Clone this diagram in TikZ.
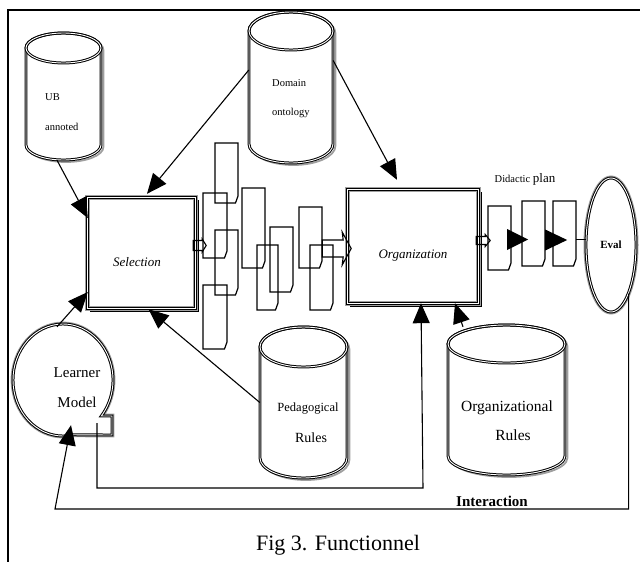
\documentclass[tikz,border=0pt]{standalone}
\usepackage{fontspec}
\setmainfont{Liberation Serif}
\usetikzlibrary{arrows.meta,shapes.geometric,calc}

\tikzset{
  frameline/.style={line width=1.3pt},
  conn/.style={line width=1.1pt},
  arr/.style={conn, -{Triangle[length=20pt,width=17pt]}},
  docline/.style={line width=1.2pt},
  tripst/.style={draw=black, line width=1pt, double=white, double distance=0.9pt},
  cylshadow/.style={draw=gray!75, line width=1.8pt, fill=white},
  cylmain/.style={tripst, fill=white},
  hollow/.style={line width=1.1pt, line join=miter},
  txt/.style={inner sep=0pt},
}

% #1 name, #2 cx, #3 top, #4 halfwidth, #5 bottom, #6 ry
\newcommand\mycyl[6]{%
  \node[inner sep=0pt, minimum width={2*#4}, minimum height={#5-#3}] (#1) at (#2,{(#3+#5)/2}) {};
  \begin{scope}[shift={(2.4,2)}]
    \filldraw[cylshadow] (#2-#4,#3+#6) -- (#2-#4,#5-#6) arc[start angle=180, end angle=0, x radius=#4, y radius=#6]
      -- (#2+#4,#3+#6) arc[start angle=0, end angle=-180, x radius=#4, y radius=#6] -- cycle;
  \end{scope}
  \filldraw[cylmain] (#2-#4,#3+#6) -- (#2-#4,#5-#6) arc[start angle=180, end angle=0, x radius=#4, y radius=#6]
      -- (#2+#4,#3+#6) arc[start angle=0, end angle=-180, x radius=#4, y radius=#6] -- cycle;
  \draw[tripst] (#2,#3+#6) ellipse[x radius=#4, y radius=#6];
}
% #1 name, #2 cx, #3 cy, #4 width, #5 height
\newcommand\mybox[5]{%
  \node[inner sep=0pt, minimum width=#4, minimum height=#5] (#1) at (#2,#3) {};
  \draw[line width=1.2pt] ([shift={(3pt,-3pt)}]#1.south west) rectangle ([shift={(3pt,-3pt)}]#1.north east);
  \filldraw[fill=white, draw=gray!75, line width=5pt] (#1.south west) rectangle (#1.north east);
  \draw[black, line width=3pt] (#1.south west) rectangle (#1.north east);
  \draw[white, line width=1pt] (#1.south west) rectangle (#1.north east);
}
% #1 name, #2 x0, #3 y0, #4 x1, #5 y1
\newcommand\mydoc[5]{%
  \node[inner sep=0pt, minimum width={#4-#2}, minimum height={#5-#3}] (#1) at ({(#2+#4)/2},{(#3+#5)/2}) {};
  \draw[docline] (#2,#3) -- (#4,#3) -- (#4,#5-7) -- (#4-2.5,#5) -- (#2,#5) -- cycle;
}

\begin{document}
\begin{tikzpicture}[x=1pt,y=-1pt]
\useasboundingbox (0,0) rectangle (640,562);

% frame
\draw[frameline] (8,562) -- (8,10) -- (640,10);

% cylinders
\mycyl{ub}{63.5}{33}{37.5}{160}{15}
\mycyl{dom}{291}{12}{42}{163}{19}
\mycyl{ped}{303.5}{327}{43.5}{478}{20}
\mycyl{orgr}{506.5}{325}{58.5}{475}{19}

% boxes
\mybox{sel}{141.5}{253}{107}{110}
\mybox{org}{413}{246.5}{130}{113}
\node[ellipse, minimum width=50, minimum height=134, inner sep=0pt,
      draw=black, line width=1pt, double=white, double distance=0.9pt,
      preaction={draw=gray!75, line width=5pt}, fill=white,
      font=\fontsize{11}{13}\selectfont\bfseries] (ev) at (611,245) {Eval};

% learner model
\node[ellipse, inner sep=0pt, minimum width=100, minimum height=112] (lm) at (63,380) {};
\draw[tripst, fill=white, preaction={draw=gray!75, line width=4.8pt}]
  ($(lm.center)+(78:50 and 56)$) arc[start angle=78, end angle=400, x radius=50, y radius=56]
  -- ($(lm.center)+(49,36)$) -- ($(lm.center)+(49,55)$) -- cycle;

% documents
\mydoc{a1}{203}{193}{227}{258}
\mydoc{a2}{203}{285}{227}{349}
\mydoc{b1}{215}{143}{238}{203}
\mydoc{b2}{215}{230}{238}{295}
\mydoc{c1}{242}{188}{265}{268}
\mydoc{dd}{257}{245}{278}{310}
\mydoc{e1}{270}{227}{293}{292}
\mydoc{f1}{299}{207}{322}{268}
\mydoc{g1}{310}{245}{333}{310}
\mydoc{p1}{488}{206}{511}{270}
\mydoc{p2}{522}{201}{545}{266}
\mydoc{p3}{553}{201}{576}{266}

% hollow arrows
\draw[hollow] ([xshift=-2pt,yshift=7.5pt]sel.east) ++(0,-5) -- ++(9,0) -- ++(0,-1.5) -- ++(4,6.5)
  -- ++(-4,6.5) -- ++(0,-1.5) -- ++(-9,0) -- cycle;
\draw[hollow] ([xshift=-2pt,yshift=6pt]org.east) ++(0,-4) -- ++(9,0) -- ++(0,-2) -- ++(5,6)
  -- ++(-5,6) -- ++(0,-2) -- ++(-9,0) -- cycle;
\draw[hollow] ([yshift=-11pt]f1.east) ++(0,-8.5) -- ++(21,0) -- ++(-1,-8) -- ++(9,16.5)
  -- ++(-9,16.5) -- ++(1,-8) -- ++(-21,0) -- cycle;

% didactic plan arrows
\fill ([xshift=-4pt,yshift=-1.5pt]p1.east) ++(0,-10.5) -- ++(21,10.5) -- ++(-21,10.5) -- cycle;
\fill ([yshift=-6.5pt]p2.east) ++(0,-10.5) -- ++(22,10.5) -- ++(-22,10.5) -- cycle;
\draw[conn] ([yshift=-6pt]p3.east) -- ([yshift=-6pt]p3.east -| ev.west);

% connectors
\draw[arr] ([xshift=-6.5pt]ub.south) -- ([yshift=35pt]sel.west);
\draw[arr] ([yshift=17.5pt]dom.west) -- ([xshift=5.5pt,yshift=4pt]sel.north);
\draw[arr] ([yshift=27pt]dom.east) -- ([xshift=-16pt,yshift=10pt]org.north);
\draw[arr] (ped.west) -- ([xshift=7pt,yshift=-1pt]sel.south);
\draw[arr] ([xshift=-6pt,yshift=-3pt]lm.north) -- ([yshift=-39pt]sel.west);
\draw[arr] ([xshift=-43.5pt,yshift=-2pt]orgr.north) -- ([xshift=42pt]org.south);
\coordinate (lmn) at ($(lm.center)+(34,43)$);
\coordinate (c1) at (423,488);
\draw[arr] (lmn) |- (c1) -- ([xshift=8pt]org.south);
\coordinate (c3) at (55,509);
\draw[arr] (ev.-70) |- (c3) -- ([xshift=8pt,yshift=11pt]lm.south);

% texts
\node[txt, anchor=west, font=\fontsize{10.5}{12}\selectfont] (tub1) at (45,97) {UB};
\node[txt, anchor=west, font=\fontsize{10.5}{12}\selectfont] (tub2) at (45,127) {annoted};
\node[txt, anchor=west, font=\fontsize{10.5}{12}\selectfont] (tdom1) at (272,83) {Domain};
\node[txt, anchor=west, font=\fontsize{10.5}{12}\selectfont] (tdom2) at (272,113) {ontology};
\node[txt, font=\fontsize{13}{15}\selectfont\itshape] (tsel) at (137,262) {Selection};
\node[txt, font=\fontsize{13}{15}\selectfont\itshape] (torg) at (413,256) {Organization};
\node[txt, font=\fontsize{12.5}{14}\selectfont] (tped1) at (308,409) {Pedagogical};
\node[txt, font=\fontsize{14}{16}\selectfont] (tped2) at (311,438) {Rules};
\node[txt, font=\fontsize{15.5}{17}\selectfont] (torgr1) at (507,408) {Organizational};
\node[txt, font=\fontsize{15.5}{17}\selectfont] (torgr2) at (513,435) {Rules};
\node[txt, font=\fontsize{15}{17}\selectfont] (tlm1) at (77,373) {Learner};
\node[txt, font=\fontsize{15}{17}\selectfont] (tlm2) at (77,402) {Model};
\node[txt] (tdp) at (525,179) {\fontsize{10.5}{12}\selectfont Didactic \fontsize{13}{15}\selectfont plan};
\node[txt, font=\fontsize{15}{17}\selectfont\bfseries] (tint) at (492,501) {Interaction};
\node[txt, font=\fontsize{22}{26}\selectfont] (tcap) at (338,545) {Fig 3. Functionnel};
\end{tikzpicture}
\end{document}
